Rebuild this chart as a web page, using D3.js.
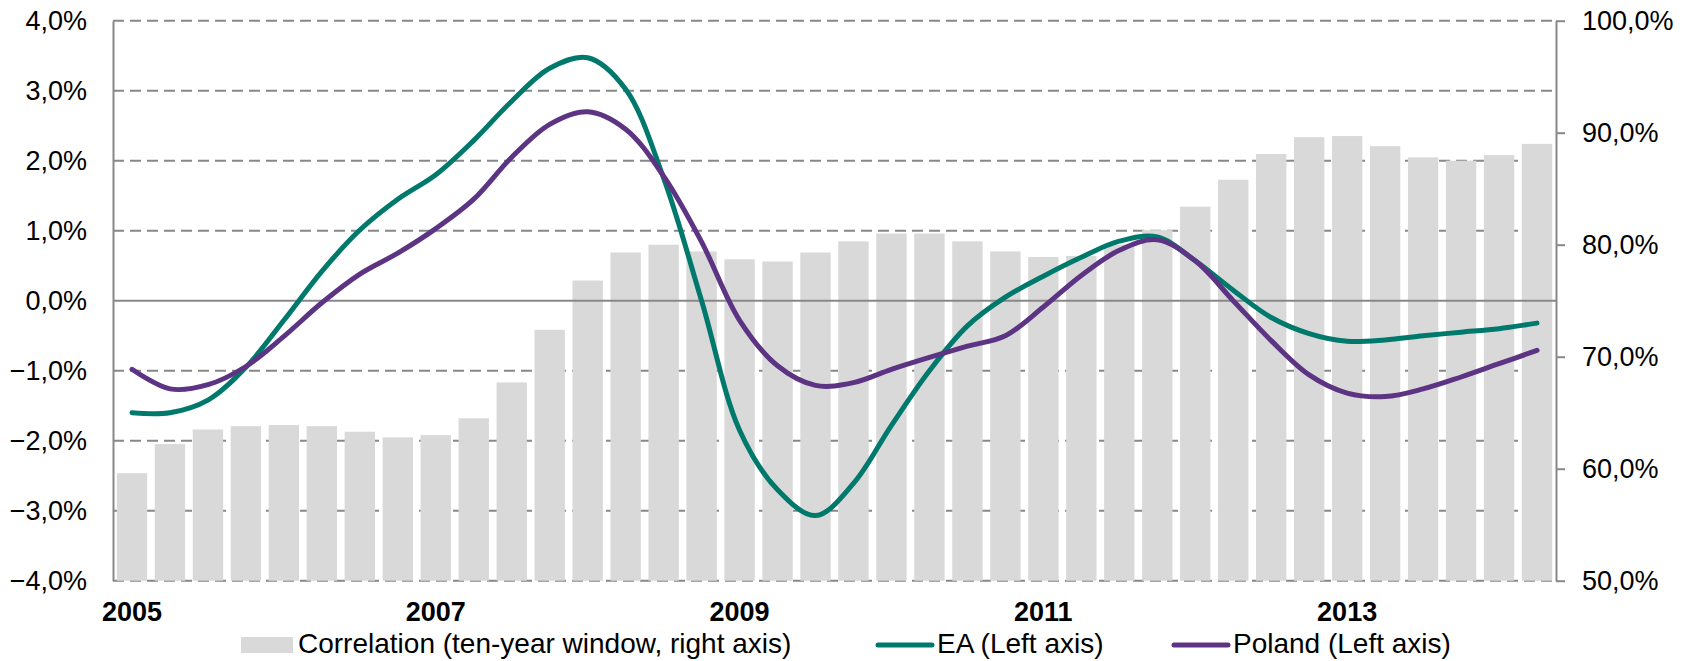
<!DOCTYPE html>
<html>
<head>
<meta charset="utf-8">
<script src="https://cdn.jsdelivr.net/npm/d3@7"></script>
<style>
  body { margin: 0; background: #fff; }
  svg { font-family: Arial, 'Liberation Sans', sans-serif; }
</style>
</head>
<body>
<div id="chart"></div>
<script>
// quarters 2005Q1 .. 2014Q2
const quarters = [
  '2005Q1', '2005Q2', '2005Q3', '2005Q4', '2006Q1', '2006Q2', '2006Q3', '2006Q4',
  '2007Q1', '2007Q2', '2007Q3', '2007Q4', '2008Q1', '2008Q2', '2008Q3', '2008Q4',
  '2009Q1', '2009Q2', '2009Q3', '2009Q4', '2010Q1', '2010Q2', '2010Q3', '2010Q4',
  '2011Q1', '2011Q2', '2011Q3', '2011Q4', '2012Q1', '2012Q2', '2012Q3', '2012Q4',
  '2013Q1', '2013Q2', '2013Q3', '2013Q4', '2014Q1', '2014Q2',
];
const yearTicks = ['2005Q1', '2007Q1', '2009Q1', '2011Q1', '2013Q1'];

// correlation, right axis (%)
const correlation = [
  59.6, 62.2, 63.5, 63.8, 63.9, 63.8, 63.3, 62.8, 63.0, 64.5,
  67.7, 72.4, 76.8, 79.3, 80.0, 79.4, 78.7, 78.5, 79.3, 80.3,
  81.0, 81.0, 80.3, 79.4, 78.9, 79.0, 80.0, 81.3, 83.4, 85.8,
  88.1, 89.6, 89.7, 88.8, 87.8, 87.5, 88.0, 89.0,
];
// left axis (%)
const ea = [
  -1.60, -1.60, -1.42, -0.95, -0.28, 0.42, 1.01, 1.45, 1.80, 2.29,
  2.85, 3.32, 3.47, 3.02, 1.75, 0.00, -1.85, -2.70, -3.07, -2.61,
  -1.78, -1.00, -0.36, 0.05, 0.35, 0.62, 0.85, 0.91, 0.57, 0.15,
  -0.24, -0.47, -0.58, -0.56, -0.50, -0.45, -0.40, -0.32,
];
const poland = [
  -0.98, -1.26, -1.20, -0.94, -0.51, -0.03, 0.38, 0.68, 1.03, 1.45,
  2.05, 2.52, 2.70, 2.45, 1.78, 0.84, -0.28, -0.93, -1.21, -1.17,
  -0.98, -0.81, -0.65, -0.50, -0.09, 0.36, 0.72, 0.87, 0.57, 0.00,
  -0.57, -1.06, -1.32, -1.37, -1.26, -1.09, -0.90, -0.71,
];

const leftTicks = [-4, -3, -2, -1, 0, 1, 2, 3, 4];
const rightTicks = [50, 60, 70, 80, 90, 100];

const W = 1698;
const H = 661;
const plot = { left: 113, right: 1556, top: 20.7, bottom: 580.7 };

const locale = d3.formatLocale({ decimal: ',', thousands: ' ', grouping: [3], currency: ['', ''] });
const fmt = locale.format('.1f');

const svg = d3
  .select('#chart')
  .append('svg')
  .attr('width', W)
  .attr('height', H);

const x = d3
  .scaleBand()
  .domain(quarters)
  .range([plot.left, plot.right])
  .paddingInner(0.2)
  .paddingOuter(0.1);

const yL = d3.scaleLinear().domain([-4, 4]).range([plot.bottom, plot.top]);
const yR = d3.scaleLinear().domain([50, 100]).range([plot.bottom, plot.top]);

const grey = '#888888';

// dashed gridlines (behind bars)
svg
  .append('g')
  .selectAll('line')
  .data(leftTicks.filter((d) => d !== 0))
  .join('line')
  .attr('x1', plot.left)
  .attr('x2', plot.right)
  .attr('y1', (d) => yL(d))
  .attr('y2', (d) => yL(d))
  .attr('stroke', grey)
  .attr('stroke-width', 2)
  .attr('stroke-dasharray', '11,6');

// bars
svg
  .append('g')
  .selectAll('rect')
  .data(correlation)
  .join('rect')
  .attr('x', (d, i) => x(quarters[i]))
  .attr('y', (d) => yR(d))
  .attr('width', x.bandwidth())
  .attr('height', (d) => yR(50) - yR(d))
  .attr('fill', '#d9d9d9');

// zero line
svg
  .append('line')
  .attr('x1', plot.left)
  .attr('x2', plot.right)
  .attr('y1', yL(0))
  .attr('y2', yL(0))
  .attr('stroke', grey)
  .attr('stroke-width', 2);

// left axis
const axL = svg
  .append('g')
  .attr('transform', `translate(${plot.left},0)`)
  .call(d3.axisLeft(yL).tickValues(leftTicks).tickSize(0).tickPadding(26).tickFormat((d) => fmt(d) + '%'));
axL.select('.domain').attr('stroke', grey).attr('stroke-width', 2);
axL.selectAll('text').attr('font-size', 27).attr('fill', '#000').attr('font-family', null);

// right axis
const axR = svg
  .append('g')
  .attr('transform', `translate(${plot.right},0)`)
  .call(d3.axisRight(yR).tickValues(rightTicks).tickSizeOuter(0).tickSizeInner(9).tickPadding(17).tickFormat((d) => fmt(d) + '%'));
axR.select('.domain').attr('stroke', grey).attr('stroke-width', 2);
axR.selectAll('line').attr('stroke', grey).attr('stroke-width', 2);
axR.selectAll('text').attr('font-size', 27).attr('fill', '#000').attr('font-family', null);

// year labels
svg
  .append('g')
  .selectAll('text')
  .data(yearTicks)
  .join('text')
  .attr('x', (d) => x(d) + x.bandwidth() / 2)
  .attr('y', 621)
  .attr('text-anchor', 'middle')
  .attr('font-size', 27)
  .attr('font-weight', 'bold')
  .text((d) => d.slice(0, 4));

// lines
const line = d3
  .line()
  .x((d, i) => x(quarters[i]) + x.bandwidth() / 2)
  .y((d) => yL(d))
  .curve(d3.curveCatmullRom.alpha(0.5));

const series = [
  { name: 'EA (Left axis)', values: ea, color: '#00796d' },
  { name: 'Poland (Left axis)', values: poland, color: '#5c3483' },
];

svg
  .append('g')
  .selectAll('path')
  .data(series)
  .join('path')
  .attr('d', (d) => line(d.values))
  .attr('fill', 'none')
  .attr('stroke', (d) => d.color)
  .attr('stroke-width', 5)
  .attr('stroke-linecap', 'round');

// legend
const lg = svg.append('g').attr('font-size', 28);
lg.append('rect').attr('x', 241).attr('y', 637).attr('width', 52).attr('height', 16).attr('fill', '#d9d9d9');
lg.append('text').attr('x', 298).attr('y', 653).text('Correlation (ten-year window, right axis)');

const lineItems = [
  { x: 878, s: series[0] },
  { x: 1174, s: series[1] },
];
lineItems.forEach((it) => {
  lg.append('line')
    .attr('x1', it.x)
    .attr('x2', it.x + 54)
    .attr('y1', 645)
    .attr('y2', 645)
    .attr('stroke', it.s.color)
    .attr('stroke-width', 5)
    .attr('stroke-linecap', 'round');
  lg.append('text').attr('x', it.x + 59).attr('y', 653).text(it.s.name);
});
</script>
</body>
</html>
